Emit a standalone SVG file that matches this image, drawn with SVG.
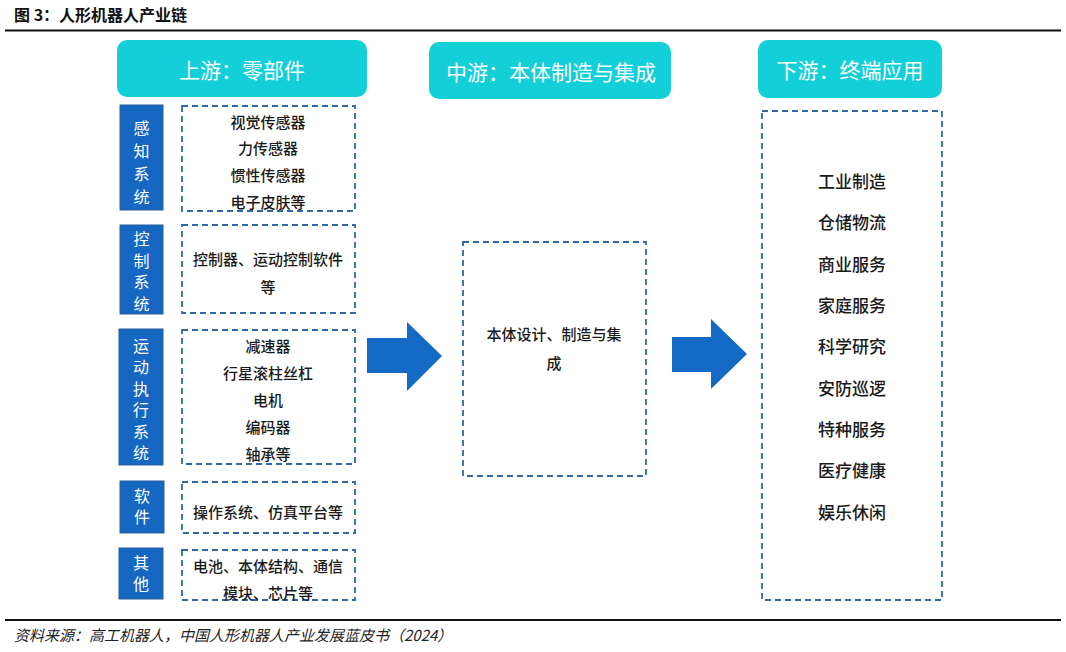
<svg xmlns="http://www.w3.org/2000/svg" width="1066" height="652" viewBox="0 0 1066 652">
<style>
.cjk{font-family:"Noto Sans CJK SC","Noto Sans",sans-serif}
.hdr{fill:#12CFD8}
.hdrt{fill:#fff;font-size:21px;text-anchor:middle;dominant-baseline:central}
.lab{fill:#1567C2;stroke:#2A5E97;stroke-width:1}
.labt{fill:#fff;font-size:16px;text-anchor:middle;writing-mode:vertical-rl}
.dash{fill:none;stroke:#2E68A6;stroke-width:1.8;stroke-dasharray:6 4}
.it{fill:#1a1a1a;font-size:15px;text-anchor:middle;dominant-baseline:central;font-weight:500}
.rt{fill:#1a1a1a;font-size:17px;text-anchor:middle;dominant-baseline:central;font-weight:500}
.arr{fill:#1369C4}
</style>
<rect width="1066" height="652" fill="#fff"/>
<text x="14" y="21" class="cjk" font-size="16" font-weight="bold" fill="#111">图 3：人形机器人产业链</text>
<line x1="5" y1="30.5" x2="1061" y2="30.5" stroke="#111" stroke-width="1.8"/>

<g id="hdr-up"><rect class="hdr" x="117" y="40" width="250" height="57" rx="10"/><text class="cjk hdrt" x="242" y="69">上游：零部件</text></g>
<g id="hdr-mid"><rect class="hdr" x="429" y="42" width="242" height="57" rx="10"/><text class="cjk hdrt" x="551" y="71">中游：本体制造与集成</text></g>
<g id="hdr-down"><rect class="hdr" x="758" y="40" width="184" height="58" rx="10"/><text class="cjk hdrt" x="850" y="69">下游：终端应用</text></g>

<g id="lab-perc"><rect class="lab" x="120" y="105" width="43" height="105"/>
<text class="cjk labt" x="141.5" y="166" letter-spacing="7">感知系统</text></g>
<g id="lab-ctrl"><rect class="lab" x="120" y="225" width="43" height="89"/>
<text class="cjk labt" x="141.5" y="274.4" letter-spacing="5.7">控制系统</text></g>
<g id="lab-motion"><rect class="lab" x="119" y="329" width="44" height="136"/>
<text class="cjk labt" x="141" y="402.2" letter-spacing="5.4">运动执行系统</text></g>
<g id="lab-soft"><rect class="lab" x="120" y="481" width="44" height="52"/>
<text class="cjk labt" x="142" y="509" letter-spacing="5">软件</text></g>
<g id="lab-other"><rect class="lab" x="119" y="548" width="44" height="51"/>
<text class="cjk labt" x="141" y="576" letter-spacing="5">其他</text></g>

<g id="box-perc"><rect class="dash" x="182" y="106" width="173" height="105"/>
<text class="cjk it" x="268" y="121">视觉传感器</text><text class="cjk it" x="268" y="147">力传感器</text><text class="cjk it" x="268" y="174">惯性传感器</text><text class="cjk it" x="268" y="201">电子皮肤等</text></g>
<g id="box-ctrl"><rect class="dash" x="182" y="225" width="173" height="88"/>
<text class="cjk it" x="268" y="258">控制器、运动控制软件</text><text class="cjk it" x="268" y="286">等</text></g>
<g id="box-motion"><rect class="dash" x="182" y="330" width="173" height="134"/>
<text class="cjk it" x="268" y="345">减速器</text><text class="cjk it" x="268" y="372">行星滚柱丝杠</text><text class="cjk it" x="268" y="399">电机</text><text class="cjk it" x="268" y="426">编码器</text><text class="cjk it" x="268" y="453">轴承等</text></g>
<g id="box-soft"><rect class="dash" x="182" y="482" width="173" height="51"/>
<text class="cjk it" x="268" y="511">操作系统、仿真平台等</text></g>
<g id="box-other"><rect class="dash" x="182" y="550" width="173" height="50"/>
<text class="cjk it" x="268" y="565">电池、本体结构、通信</text><text class="cjk it" x="268" y="592">模块、芯片等</text></g>

<g id="box-mid"><rect class="dash" x="463" y="242" width="183" height="234"/>
<text class="cjk it" x="554" y="333">本体设计、制造与集</text><text class="cjk it" x="554" y="362">成</text></g>

<g id="box-down"><rect class="dash" x="762" y="111" width="180" height="489"/>
<text class="cjk rt" x="852" y="180">工业制造</text>
<text class="cjk rt" x="852" y="221">仓储物流</text>
<text class="cjk rt" x="852" y="263">商业服务</text>
<text class="cjk rt" x="852" y="304">家庭服务</text>
<text class="cjk rt" x="852" y="345">科学研究</text>
<text class="cjk rt" x="852" y="387">安防巡逻</text>
<text class="cjk rt" x="852" y="428">特种服务</text>
<text class="cjk rt" x="852" y="469">医疗健康</text>
<text class="cjk rt" x="852" y="511">娱乐休闲</text></g>

<g id="connectors">
<polygon class="arr" points="367,338 407,338 407,322 442,356 407,391 407,373 367,373"/>
<polygon class="arr" points="672,337 711,337 711,319 747,354 711,389 711,372 672,372"/>
</g>

<line x1="5" y1="620" x2="1061" y2="620" stroke="#111" stroke-width="1.8"/>
<text x="14" y="641" class="cjk" font-size="15" font-style="italic" fill="#222">资料来源：高工机器人，中国人形机器人产业发展蓝皮书（2024）</text>
</svg>
